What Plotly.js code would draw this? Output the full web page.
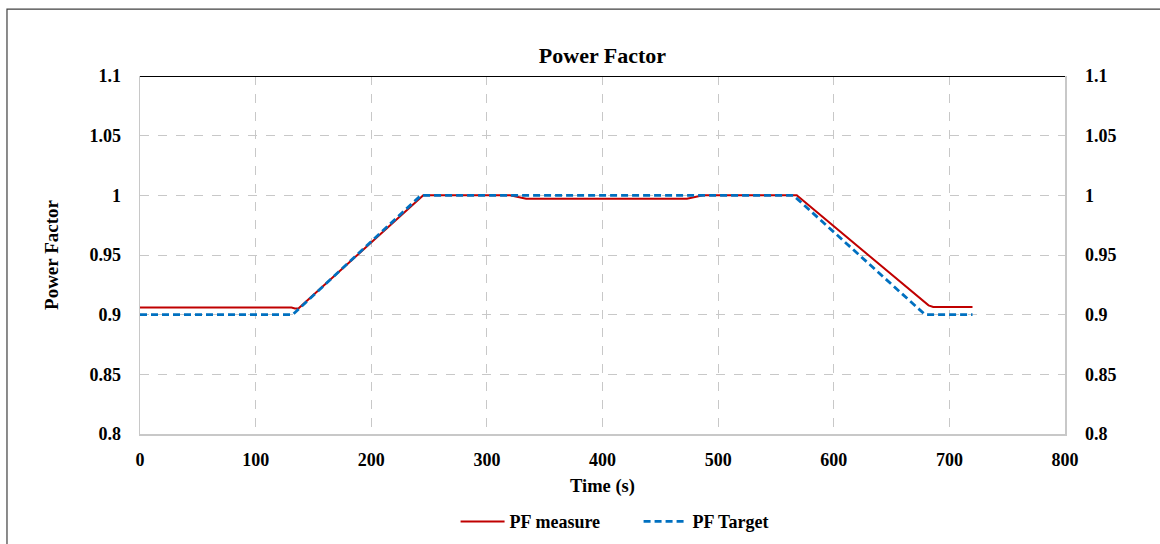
<!DOCTYPE html>
<html>
<head>
<meta charset="utf-8">
<script src="https://cdn.plot.ly/plotly-3.0.1.min.js"></script>
<style>
html,body{margin:0;padding:0;background:#fff;}
#chart{width:1160px;height:544px;}
</style>
</head>
<body>
<div id="chart"></div>
<script>
// Data
const measureTime = [0, 131, 134, 137, 245, 320, 334, 473, 487, 568, 682, 686, 720];
const measureValue = [0.906, 0.906, 0.9052, 0.9052, 1.0, 1.0, 0.9972, 0.9972, 1.0, 1.0, 0.9078, 0.9064, 0.9064];
const targetTime = [0, 132, 243, 565, 679, 720];
const targetValue = [0.9, 0.9, 1.0, 1.0, 0.9, 0.9];
const seriesNames = ["PF measure", "PF Target"];
const xTicks = [0, 100, 200, 300, 400, 500, 600, 700, 800];
const yTicks = [0.8, 0.85, 0.9, 0.95, 1, 1.05, 1.1];
const yTickLabels = ["0.8", "0.85", "0.9", "0.95", "1", "1.05", "1.1"];

const FONT = "'Liberation Serif', 'Times New Roman', serif";
const GRID = "#c8c8c8";
const TICKFONT = {family: FONT, size: 18, color: "#000", weight: "bold"};

const traces = [
  {
    x: measureTime, y: measureValue, name: seriesNames[0],
    type: "scatter", mode: "lines",
    line: {color: "#c00000", width: 2}
  },
  {
    x: targetTime, y: targetValue, name: seriesNames[1],
    type: "scatter", mode: "lines", yaxis: "y2",
    line: {color: "#0070c0", width: 2.8, dash: "7px,4px"}
  }
];

const layout = {
  width: 1160, height: 544,
  margin: {l: 140, r: 95, t: 76, b: 110, autoexpand: false},
  paper_bgcolor: "#fff", plot_bgcolor: "#fff",
  font: {family: FONT, size: 17, color: "#000", weight: "bold"},
  title: {
    text: "<b>Power Factor</b>",
    font: {family: FONT, size: 22, color: "#000"},
    x: 0.5, xref: "paper", xanchor: "center",
    y: 1 - 55 / 544, yref: "container", yanchor: "middle"
  },
  showlegend: true,
  legend: {
    orientation: "h", x: 0.539, xanchor: "center", y: -0.245, yanchor: "middle",
    font: {family: FONT, size: 18, color: "#000", weight: "bold"},
    traceorder: "normal", itemwidth: 44, entrywidth: 124
  },
  xaxis: {
    range: [0, 800], tickvals: xTicks, ticktext: xTicks.map(String),
    showgrid: true, gridcolor: GRID, griddash: "dash", gridwidth: 1,
    showline: true, linecolor: GRID, linewidth: 1.5,
    zeroline: false, ticks: "", ticklabelstandoff: 9,
    tickfont: TICKFONT,
    title: {text: "<b>Time (s)</b>", font: {family: FONT, size: 18.5, color: "#000"}, standoff: 10},
    automargin: false
  },
  yaxis: {
    range: [0.8, 1.1], tickvals: yTicks, ticktext: yTickLabels,
    showgrid: true, gridcolor: GRID, griddash: "dash", gridwidth: 1,
    showline: true, linecolor: GRID, linewidth: 1.5,
    zeroline: false, ticks: "", ticklabelstandoff: 14,
    tickfont: TICKFONT,
    title: {text: "<b>Power Factor</b>", font: {family: FONT, size: 19, color: "#000"}, standoff: 26},
    automargin: false
  },
  yaxis2: {
    range: [0.8, 1.1], tickvals: yTicks, ticktext: yTickLabels,
    overlaying: "y", side: "right",
    showgrid: false, showline: true, linecolor: GRID, linewidth: 1.5,
    zeroline: false, ticks: "", ticklabelstandoff: 15,
    tickfont: TICKFONT,
    automargin: false
  },
  shapes: [
    {type: "line", xref: "paper", yref: "y", x0: 0, x1: 1, y0: 1.1, y1: 1.1,
     line: {color: "#000", width: 2}, layer: "above"},
    {type: "rect", xref: "paper", yref: "paper",
     x0: -0.1438, x1: 1.12, y0: -0.35, y1: 1.187,
     line: {color: "#404040", width: 1.2}, fillcolor: "rgba(0,0,0,0)", layer: "below"}
  ]
};

Plotly.newPlot("chart", traces, layout, {displayModeBar: false, staticPlot: true});
</script>
</body>
</html>
